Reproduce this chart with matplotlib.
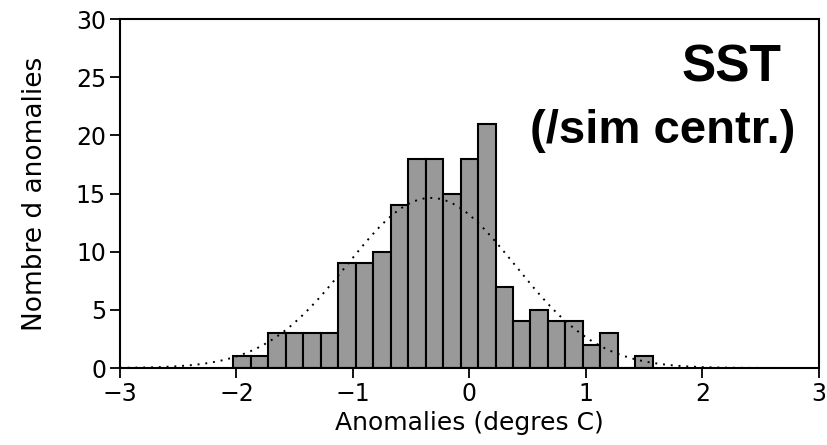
import numpy as np
import matplotlib
matplotlib.use('Agg')
import matplotlib.pyplot as plt

# histogram (bin width 0.15)
bin_left = -2.025
bin_width = 0.15
counts = [1, 1, 3, 3, 3, 3, 9, 9, 10, 14, 18, 18, 15, 18, 21,
          7, 4, 5, 4, 4, 2, 3, 0, 1]

# fitted normal curve (dotted)
gauss_mu = -0.33
gauss_sigma = 0.72

xticks = [-3, -2, -1, 0, 1, 2, 3]
yticks = [0, 5, 10, 15, 20, 25, 30]

plt.rcParams['font.family'] = ['DejaVu Sans']

fig = plt.figure(figsize=(8.27, 4.45), dpi=100)
ax = fig.add_axes([0.145, 0.173, 0.845, 0.784])

edges = bin_left + bin_width * np.arange(len(counts) + 1)
ax.bar(edges[:-1], counts, width=bin_width, align='edge',
       color='#999999', edgecolor='black', linewidth=1.5, zorder=2)

n = sum(counts)
xs = np.linspace(-3, 3, 400)
ys = n * bin_width / (gauss_sigma * np.sqrt(2 * np.pi)) * \
    np.exp(-0.5 * ((xs - gauss_mu) / gauss_sigma) ** 2)
ax.plot(xs, ys, color='black', linestyle=(0, (1, 3)), linewidth=1.4, zorder=3)

ax.set_xlim(-3, 3)
ax.set_ylim(0, 30)
ax.set_xticks(xticks)
ax.set_xticklabels([str(t).replace('-', '\u2212') for t in xticks])
ax.set_yticks(yticks)
ax.tick_params(direction='out', length=7, width=1.3, labelsize=17, pad=3)
for s in ax.spines.values():
    s.set_linewidth(1.5)

ax.set_xlabel('Anomalies (degres C)', fontsize=18, labelpad=4)
ax.set_ylabel('Nombre d anomalies', fontsize=19, labelpad=20)

ax.text(0.947, 0.82, 'SST', transform=ax.transAxes, ha='right', va='baseline',
        fontsize=37, fontweight='bold', family='Liberation Sans')
ax.text(0.966, 0.645, '(/sim centr.)', transform=ax.transAxes, ha='right',
        va='baseline', fontsize=34, fontweight='bold', family='Liberation Sans')

fig.savefig('out.png', dpi=100)
